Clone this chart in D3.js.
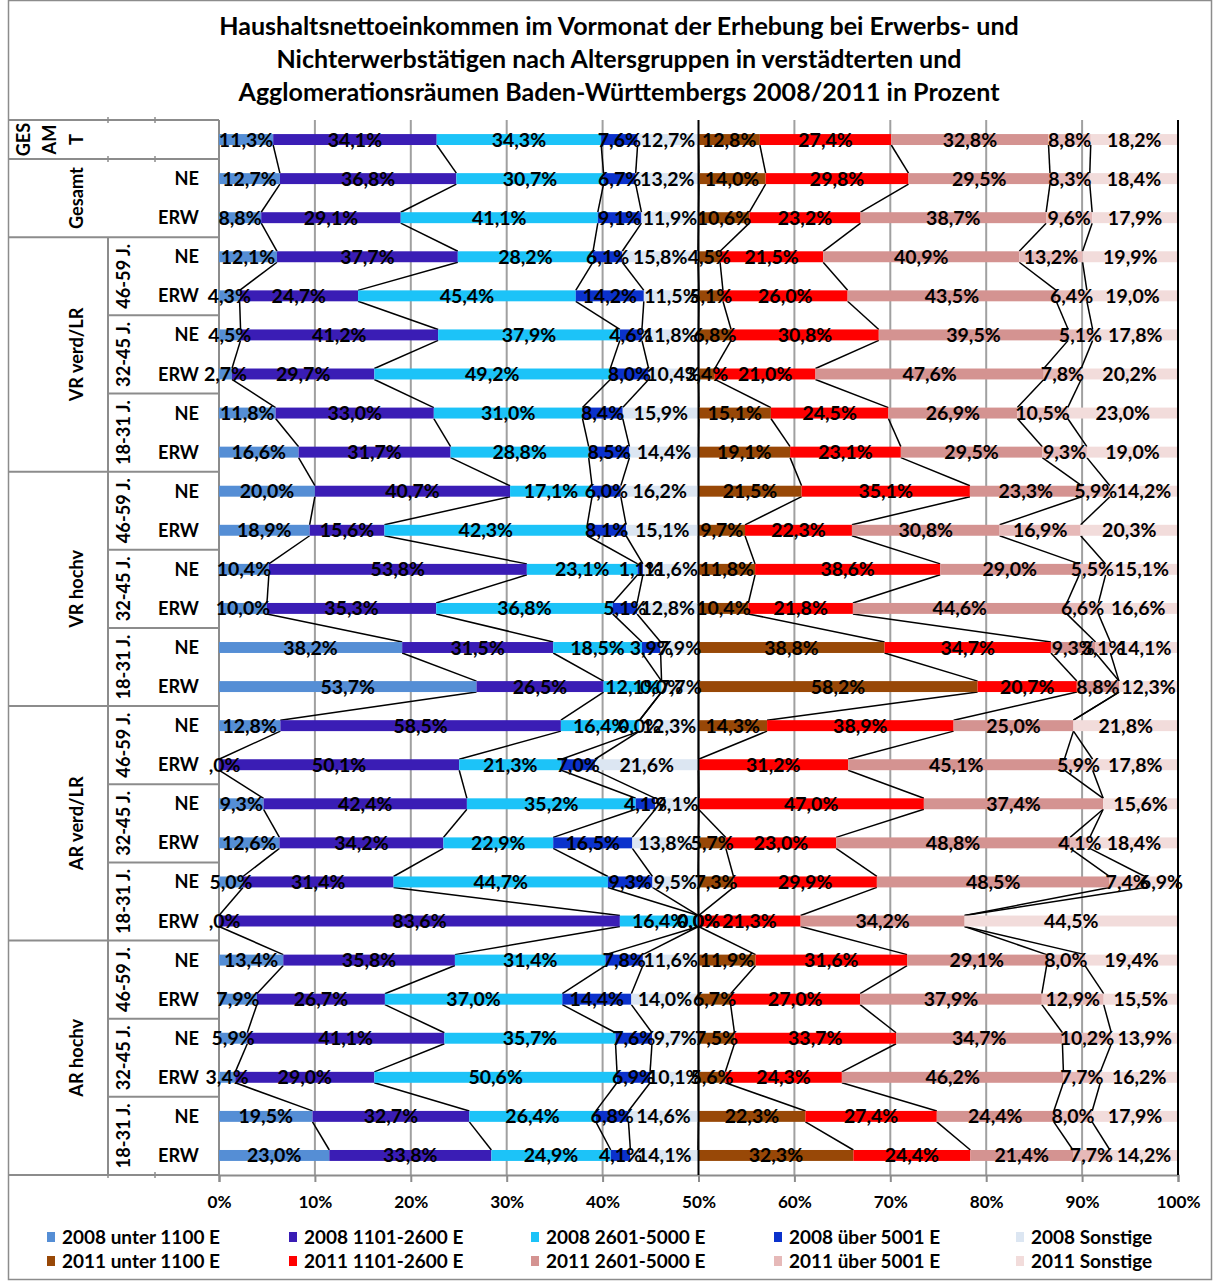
<!DOCTYPE html>
<html><head><meta charset="utf-8">
<script src="https://cdn.jsdelivr.net/npm/d3@7"></script>
<style>
body{margin:0;background:#fff}
text{font-family:Lato,'Open Sans',sans-serif;font-weight:bold;fill:#000}
</style>
</head><body>
<svg id="c" width="1214" height="1281"></svg>
<script>
// ---------- DATA ----------
const titleLines = [
  "Haushaltsnettoeinkommen im Vormonat der Erhebung bei Erwerbs- und",
  "Nichterwerbstätigen nach Altersgruppen in verstädterten und",
  "Agglomerationsräumen Baden-Württembergs 2008/2011 in Prozent"
];
const rowLabels = ["", "NE","ERW",
  "NE","ERW","NE","ERW","NE","ERW",
  "NE","ERW","NE","ERW","NE","ERW",
  "NE","ERW","NE","ERW","NE","ERW",
  "NE","ERW","NE","ERW","NE","ERW"];
const regionLabels = ["GESAMT","Gesamt","VR verd/LR","VR hochv","AR verd/LR","AR hochv"];
const regionRowCounts = [1,2,6,6,6,6];
const ageGroups = ["46-59 J.","32-45 J.","18-31 J."];
const seriesNames = ["2008 unter 1100 E","2008 1101-2600 E","2008 2601-5000 E","2008 über 5001 E","2008 Sonstige",
                     "2011 unter 1100 E","2011 1101-2600 E","2011 2601-5000 E","2011 über 5001 E","2011 Sonstige"];
const xTicks = [0,10,20,30,40,50,60,70,80,90,100];

const v2008_unter1100 = [11.3,12.7,8.8,12.1,4.3,4.5,2.7,11.8,16.6,20.0,18.9,10.4,10.0,38.2,53.7,12.8,0.0,9.3,12.6,5.0,0.0,13.4,7.9,5.9,3.4,19.5,23.0];
const v2008_1101_2600 = [34.1,36.8,29.1,37.7,24.7,41.2,29.7,33.0,31.7,40.7,15.6,53.8,35.3,31.5,26.5,58.5,50.1,42.4,34.2,31.4,83.6,35.8,26.7,41.1,29.0,32.7,33.8];
const v2008_2601_5000 = [34.3,30.7,41.1,28.2,45.4,37.9,49.2,31.0,28.8,17.1,42.3,23.1,36.8,18.5,12.1,16.4,21.3,35.2,22.9,44.7,16.4,31.4,37.0,35.7,50.6,26.4,24.9];
const v2008_ueber5001 = [7.6,6.7,9.1,6.1,14.2,4.6,8.0,8.4,8.5,6.0,8.1,1.1,5.1,3.9,0.0,0.0,7.0,4.1,16.5,9.3,0.0,7.8,14.4,7.6,6.9,6.8,4.1];
const v2008_sonstige = [12.7,13.2,11.9,15.8,11.5,11.8,10.4,15.9,14.4,16.2,15.1,11.6,12.8,7.9,7.7,12.3,21.6,9.1,13.8,9.5,0.0,11.6,14.0,9.7,10.1,14.6,14.1];

const v2011_unter1100 = [12.8,14.0,10.6,4.5,5.1,6.8,3.4,15.1,19.1,21.5,9.7,11.8,10.4,38.8,58.2,14.3,null,null,5.7,7.3,null,11.9,6.7,7.5,5.6,22.3,32.3];
const v2011_1101_2600 = [27.4,29.8,23.2,21.5,26.0,30.8,21.0,24.5,23.1,35.1,22.3,38.6,21.8,34.7,20.7,38.9,31.2,47.0,23.0,29.9,21.3,31.6,27.0,33.7,24.3,27.4,24.4];
const v2011_2601_5000 = [32.8,29.5,38.7,40.9,43.5,39.5,47.6,26.9,29.5,23.3,30.8,29.0,44.6,9.3,8.8,25.0,45.1,37.4,48.8,48.5,34.2,29.1,37.9,34.7,46.2,24.4,21.4];
const v2011_ueber5001 = [8.8,8.3,9.6,13.2,6.4,5.1,7.8,10.5,9.3,5.9,16.9,5.5,6.6,3.1,null,null,5.9,null,4.1,7.4,null,8.0,12.9,10.2,7.7,8.0,7.7];
const v2011_sonstige = [18.2,18.4,17.9,19.9,19.0,17.8,20.2,23.0,19.0,14.2,20.3,15.1,16.6,14.1,12.3,21.8,17.8,15.6,18.4,6.9,44.5,19.4,15.5,13.9,16.2,17.9,14.2];

const colors = ["#558ED5","#3A1DB5","#1CC3F8","#0B32CC","#DCE6F2",
                "#984807","#FF0000","#D49391","#E6B9B8","#F2DCDB"];

// ---------- SETUP ----------
const svg = d3.select("#c");
const W = 1214, H = 1281;
const plotL = 219, plotR = 1178, plotT = 120, plotB = 1175;

function fitSize(txt, targetW, base){
  base = base || 20;
  const t = svg.append("text").attr("font-size", base).text(txt);
  const w = t.node().getComputedTextLength();
  t.remove();
  return base * targetW / w;
}
const titleSize = fitSize(titleLines[0], 800);
const labelSize = fitSize("45,4%", 54.5);
const axisSize = fitSize("ERW", 41);
const legendSize = fitSize("2008 unter 1100 E", 158);
const tickSize = fitSize("100%", 44);

const series = [v2008_unter1100,v2008_1101_2600,v2008_2601_5000,v2008_ueber5001,v2008_sonstige,
                v2011_unter1100,v2011_1101_2600,v2011_2601_5000,v2011_ueber5001,v2011_sonstige];
const nRows = rowLabels.length;

const x = d3.scaleLinear().domain([0,100]).range([plotL, plotR]);
const y = d3.scaleBand().domain(d3.range(nRows)).range([plotT, plotB]).paddingInner(0.72).paddingOuter(0.36);
const bw = y.bandwidth();
const step = y.step();

const segs = [];
const cumEnd = d3.range(nRows).map(() => []);
for (let r = 0; r < nRows; r++) {
  let c08 = 0, c11 = 0;
  for (let s = 0; s < 10; s++) {
    const v = series[s][r];
    const val = v == null ? 0 : v;
    let start, end;
    if (s < 5) { start = c08/2; c08 += val; end = c08/2; }
    else { start = 50 + c11/2; c11 += val; end = 50 + c11/2; }
    cumEnd[r][s] = end;
    segs.push({r, s, v, start, end});
  }
}

// outer frame
svg.append("rect").attr("x",8.5).attr("y",0.5).attr("width",1203).attr("height",1279)
  .attr("fill","none").attr("stroke","#8c8c8c").attr("stroke-width",1.5);

// title
svg.append("g").selectAll("text").data(titleLines).join("text")
  .attr("x", 619).attr("y", (d,i) => 35 + i*33)
  .attr("text-anchor","middle").attr("font-size", titleSize).text(d => d);

// gridlines
svg.append("g").selectAll("line").data(xTicks.filter(t => t > 0 && t < 100 && t !== 50)).join("line")
  .attr("x1", d => x(d)).attr("x2", d => x(d)).attr("y1", plotT).attr("y2", plotB)
  .attr("stroke","#a0a0a0").attr("stroke-width",2);

// x axis
const xAxis = d3.axisBottom(x).tickValues(xTicks).tickFormat(d => d + "%").tickSize(7).tickPadding(14);
const gx = svg.append("g").attr("transform", `translate(0,${plotB})`).call(xAxis);
gx.select(".domain").attr("stroke","#8c8c8c").attr("stroke-width",2);
gx.selectAll(".tick line").attr("stroke","#8c8c8c").attr("stroke-width",2);
gx.selectAll(".tick text").attr("font-size", tickSize).attr("font-family","Lato").attr("font-weight","bold").attr("fill","#000");

// category axis structure
const gCat = svg.append("g").attr("stroke","#8c8c8c").attr("stroke-width",2);
gCat.append("line").attr("x1",plotL).attr("x2",plotL).attr("y1",plotT).attr("y2",plotB);
gCat.append("line").attr("x1",8).attr("x2",plotL).attr("y1",plotB).attr("y2",plotB);
let rowStart = 0;
const regionSpans = regionRowCounts.map(n => { const s = rowStart; rowStart += n; return [s, s+n]; });
const regionBounds = [0].concat(regionSpans.map(d => d[1]));
regionBounds.forEach(b => {
  const yy = plotT + b*step;
  gCat.append("line").attr("x1",8).attr("x2",plotL).attr("y1",yy).attr("y2",yy);
});
regionSpans.slice(2).forEach(([a,b]) => {
  gCat.append("line").attr("x1",108).attr("x2",108).attr("y1",plotT+a*step).attr("y2",plotT+b*step);
  [a+2, a+4].forEach(k => {
    const yy = plotT + k*step;
    gCat.append("line").attr("x1",108).attr("x2",plotL).attr("y1",yy).attr("y2",yy);
  });
});
[plotT, plotT+step, plotB].forEach(yy => {
  [108,155].forEach(xx => {
    gCat.append("line").attr("x1",xx).attr("x2",xx).attr("y1",yy-3).attr("y2",yy+3).attr("stroke-width",1.5);
  });
});

// region labels
regionSpans.forEach(([a,b], i) => {
  const yc = plotT + (a+b)/2*step;
  const lines = i === 0 ? ["GES","AM","T"] : [regionLabels[i]];
  const xs = i === 0 ? [23,49,76] : [76];
  lines.forEach((ln, j) => {
    svg.append("text").attr("transform", `translate(${xs[j]},${yc}) rotate(-90)`)
      .attr("text-anchor","middle").attr("dominant-baseline","central")
      .attr("font-size", axisSize).text(ln);
  });
  if (i >= 2) {
    ageGroups.forEach((ag, k) => {
      const yy = plotT + (a + 2*k + 1)*step;
      svg.append("text").attr("transform", `translate(123,${yy}) rotate(-90)`)
        .attr("text-anchor","middle").attr("dominant-baseline","central")
        .attr("font-size", axisSize).text(ag);
    });
  }
});
svg.append("g").selectAll("text").data(rowLabels).join("text")
  .attr("x", 199).attr("y", (d,i) => y(i) + bw/2).attr("dy","0.36em")
  .attr("text-anchor","end").attr("font-size", axisSize).text(d => d);

// series lines
const sl = svg.append("g").attr("stroke","#000").attr("stroke-width",1.5);
for (let s = 0; s < 10; s++) {
  for (let r = 0; r < nRows-1; r++) {
    sl.append("line")
      .attr("x1", x(cumEnd[r][s])).attr("y1", y(r)+bw)
      .attr("x2", x(cumEnd[r+1][s])).attr("y2", y(r+1));
  }
}
// bars
svg.append("g").selectAll("rect").data(segs.filter(d => d.v != null && d.v > 0)).join("rect")
  .attr("x", d => x(d.start)).attr("width", d => x(d.end) - x(d.start))
  .attr("y", d => y(d.r)).attr("height", bw).attr("fill", d => colors[d.s]);

[50,100].forEach(v => {
  svg.append("line").attr("x1",x(v)).attr("x2",x(v)).attr("y1",plotT).attr("y2",plotB)
    .attr("stroke","#000").attr("stroke-width",2);
});

// data labels (zero labels at the left edge are partly hidden behind the axis area, as in the original)
svg.append("clipPath").attr("id","zeroclip").append("rect")
  .attr("x",209).attr("y",plotT).attr("width",W-209).attr("height",plotB-plotT);
const fmt = d3.format(".1f");
svg.append("g").selectAll("text")
  .data(segs.filter(d => d.v != null)).join("text")
  .attr("clip-path", d => d.v === 0 ? "url(#zeroclip)" : null)
  .attr("x", d => x((d.start + d.end)/2)).attr("y", d => y(d.r) + bw/2).attr("dy","0.36em")
  .attr("text-anchor","middle").attr("font-size", labelSize)
  .text(d => fmt(d.v).replace(".", ",") + "%");

// legend
const legX = [62, 304, 546, 789, 1031];
const leg = svg.append("g").selectAll("g").data(seriesNames).join("g")
  .attr("transform", (d,i) => `translate(${legX[i%5]},${1237 + Math.floor(i/5)*24})`);
leg.append("rect").attr("x",-15).attr("y",-5).attr("width",8).attr("height",10).attr("fill",(d,i) => colors[i]);
leg.append("text").attr("x",0).attr("dy","0.36em").attr("font-size", legendSize).text(d => d);
</script>
</body></html>
